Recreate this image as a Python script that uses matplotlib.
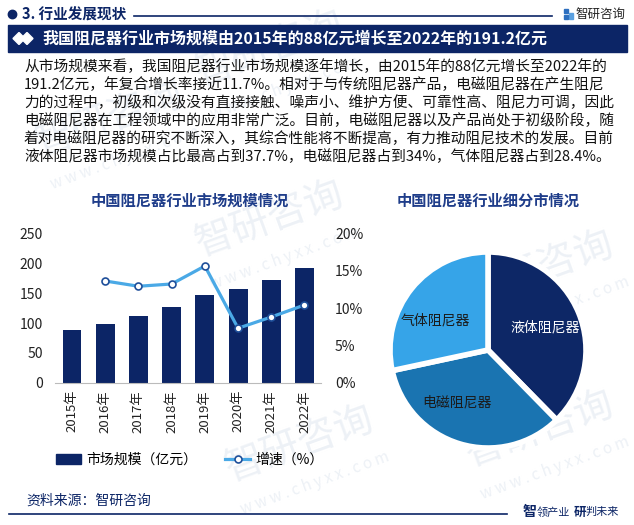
import numpy as np
import matplotlib
matplotlib.use('Agg')
import matplotlib.pyplot as plt
from matplotlib.patches import Rectangle, Polygon
from matplotlib.lines import Line2D
from matplotlib.ticker import FuncFormatter

plt.rcParams['font.family'] = ['Noto Sans CJK SC', 'DejaVu Sans']

# data
years = ['2015年', '2016年', '2017年', '2018年', '2019年', '2020年', '2021年', '2022年']
market_size = [88, 98, 111, 126, 146, 156, 171, 191.2]
growth = [None, 13.6, 12.9, 13.2, 15.6, 7.3, 8.8, 10.4]
segments = ['液体阻尼器', '电磁阻尼器', '气体阻尼器']
segment_share = [37.7, 34, 28.4]

header = '3. 行业发展现状'
banner = '我国阻尼器行业市场规模由2015年的88亿元增长至2022年的191.2亿元'
paragraph = [
    '从市场规模来看，我国阻尼器行业市场规模逐年增长，由2015年的88亿元增长至2022年的',
    '191.2亿元，年复合增长率接近11.7%。相对于与传统阻尼器产品，电磁阻尼器在产生阻尼',
    '力的过程中，初级和次级没有直接接触、噪声小、维护方便、可靠性高、阻尼力可调，因此',
    '电磁阻尼器在工程领域中的应用非常广泛。目前，电磁阻尼器以及产品尚处于初级阶段，随',
    '着对电磁阻尼器的研究不断深入，其综合性能将不断提高，有力推动阻尼技术的发展。目前',
    '液体阻尼器市场规模占比最高占到37.7%，电磁阻尼器占到34%，气体阻尼器占到28.4%。',
]

navy = '#0c2566'
light = '#4aa9e6'
title_c = '#1f3d8a'
W, H = 634, 525

fig = plt.figure(figsize=(W / 100, H / 100), dpi=100)

# background layer in pixel coordinates
bg = fig.add_axes([0, 0, 1, 1], zorder=0)
bg.set_xlim(0, W)
bg.set_ylim(H, 0)
bg.axis('off')

# faint watermarks
wm = '#edf1f6'
for (x, y) in [(270, 50), (110, 120), (270, 220), (540, 270), (300, 445), (540, 430)]:
    bg.text(x, y, '智研咨询', fontsize=28, color=wm, rotation=20, ha='center', va='center', zorder=0)
    bg.text(x + 15, y + 38, 'w w w . c h y x x . c o m', fontsize=11, color=wm, rotation=20,
            ha='center', va='center', zorder=0)

# header
bg.add_patch(plt.Circle((12.5, 14.5), 4.2, color=navy))
bg.text(22, 14.5, header, fontsize=10.5, fontweight='bold', color=navy, va='center', ha='left')
bg.plot([134, 552], [15.5, 15.5], color=navy, lw=1.2)
bg.add_patch(Rectangle((564, 9), 4, 4, color='#2d6fbf'))
bg.add_patch(Rectangle((569, 13), 4, 6, color='#5aa0e0'))
bg.add_patch(Rectangle((564, 15), 4, 4, color='#2d6fbf'))
bg.text(576, 14.5, '智研咨询', fontsize=9, color='#222222', va='center', ha='left')

# banner
bg.add_patch(Rectangle((8, 25), 619, 27, color=navy))
for cx in (19, 27):
    bg.add_patch(Polygon([[cx - 6, 38.5], [cx, 32.5], [cx + 6, 38.5], [cx, 44.5]], color='white'))
bg.text(42, 38.5, banner, fontsize=11.5, fontweight='bold', color='white', va='center', ha='left')

# paragraph
for i, line in enumerate(paragraph):
    bg.text(24, 67 + i * 18, line, fontsize=10.6, color='#111111', va='center', ha='left')

# chart titles
bg.text(190, 201, '中国阻尼器行业市场规模情况', fontsize=11, fontweight='bold', color=title_c,
        ha='center', va='center')
bg.text(488, 201, '中国阻尼器行业细分市情况', fontsize=11, fontweight='bold', color=title_c,
        ha='center', va='center')

# footer
bg.text(26, 501, '资料来源：智研咨询', fontsize=10, color=navy, va='center', ha='left')
bg.plot([9, 507], [514, 514], color=navy, lw=1.2)
bg.text(523, 512, '智', fontsize=10, fontweight='bold', color=navy, va='center', ha='left')
bg.text(537, 512, '领产业', fontsize=8, color=navy, va='center', ha='left')
bg.text(574, 512, '研', fontsize=9, fontweight='bold', color=navy, va='center', ha='left')
bg.text(586, 512, '判未来', fontsize=8, color=navy, va='center', ha='left')

# bar + line chart
ax = fig.add_axes([55.4 / W, 1 - 383 / H, 265.7 / W, 150 / H], zorder=2)
ax.patch.set_alpha(0)
x = np.arange(len(years))
ax.bar(x, market_size, width=0.57, color=navy, zorder=2)
ax.set_xlim(-0.5, len(years) - 0.5)
ax.set_ylim(0, 250)
ax.set_yticks([0, 50, 100, 150, 200, 250])
ax.set_xticks(x)
ax.set_xticklabels(years, rotation=90, fontsize=9.5)
ax.tick_params(axis='both', length=0, labelsize=10, colors='#222222')
ax.tick_params(axis='y', pad=9)
ax.tick_params(axis='x', pad=5, labelsize=9.5)
for s in ['top', 'left', 'right']:
    ax.spines[s].set_visible(False)
ax.spines['bottom'].set_color('#bbbbbb')

ax2 = ax.twinx()
gx = [i for i, g in enumerate(growth) if g is not None]
gy = [g for g in growth if g is not None]
ax2.plot(gx, gy, color=light, lw=2.3, marker='o', markersize=5,
         markerfacecolor='white', markeredgecolor='#1f4f9a', markeredgewidth=1.2, zorder=3)
ax2.set_ylim(0, 20)
ax2.set_yticks([0, 5, 10, 15, 20])
ax2.yaxis.set_major_formatter(FuncFormatter(lambda v, p: f'{v:.0f}%'))
ax2.tick_params(axis='y', length=0, labelsize=10, colors='#222222', pad=10)
for s in ['top', 'left', 'right', 'bottom']:
    ax2.spines[s].set_visible(False)

handles = [Rectangle((0, 0), 1, 1, color=navy),
           Line2D([0], [0], color=light, lw=2.3, marker='o', markersize=5,
                  markerfacecolor='white', markeredgecolor='#1f4f9a', markeredgewidth=1.2)]
fig.legend(handles, ['市场规模（亿元）', '增速（%）'], loc='center',
           bbox_to_anchor=(190 / W, 1 - 460 / H), ncol=2, frameon=False,
           fontsize=10, handlelength=1.8, columnspacing=2.0, handletextpad=0.4)

# pie chart
axp = fig.add_axes([(488 - 100) / W, 1 - (350 + 100) / H, 200 / W, 200 / H], zorder=2)
wedges, texts = axp.pie(segment_share, labels=segments,
                        colors=['#0d2766', '#1a74b1', '#36a4e8'],
                        startangle=90, counterclock=False, radius=0.98,
                        labeldistance=0.62,
                        wedgeprops=dict(edgecolor='white', linewidth=4),
                        textprops=dict(fontsize=10, ha='center', va='center'))
texts[0].set_color('white')
texts[1].set_color('#1a1a1a')
texts[2].set_color('#1a1a1a')
texts[0].set_position((0.57, 0.23))
texts[1].set_position((-0.31, -0.52))
texts[2].set_position((-0.53, 0.30))
axp.set_xlim(-1, 1)
axp.set_ylim(-1, 1)
axp.set_aspect('equal')

fig.savefig('out.png', dpi=100)
